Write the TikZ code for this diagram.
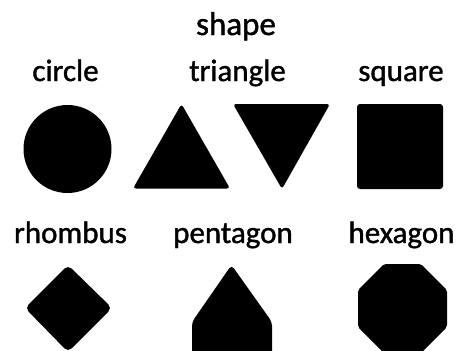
\documentclass[tikz,border=0pt]{standalone}
\usepackage{fontspec}
\setmainfont{Carlito}
\newfontfamily\lblfont{Carlito}[FakeBold=1.2]
\begin{document}
\begin{tikzpicture}[x=1pt,y=-1pt,
  lbl/.style={anchor=base,inner sep=0pt,font=\lblfont\fontsize{31}{34}\selectfont},
  shp/.style={fill=black,rounded corners=3pt}]
\useasboundingbox (0,0) rectangle (459,351);
\clip (0,0) rectangle (459,351);
\node[lbl,font=\lblfont\fontsize{33}{36}\selectfont] (title) at (236,35) {shape};
\node[lbl] (lcircle) at (65.5,81) {circle};
\node[lbl] (ltriangle) at (237.5,81) {triangle};
\node[lbl] (lsquare) at (401,81) {square};
\node[lbl] (lrhombus) at (70.5,243) {rhombus};
\node[lbl] (lpentagon) at (233,243) {pentagon};
\node[lbl] (lhexagon) at (401.5,243) {hexagon};
% circle
\fill (67.5,149) circle (44);
% up triangle
\fill[shp] (181.5,104) -- (230,188.5) -- (133,188.5) -- cycle;
% down triangle
\fill[shp] (233,104) -- (330,104) -- (282,189) -- cycle;
% square
\fill[shp] (357,104) rectangle (443,189);
% rhombus
\fill[shp,rounded corners=5pt] (68,265) -- (112,308) -- (68,352) -- (25,308) -- cycle;
% pentagon
\fill[shp,rounded corners=4pt] (231.5,265) -- (272,322) -- (272,365) -- (192,365) -- (192,322) -- cycle;
% octagon
\fill[shp,rounded corners=2pt] (447,290) -- (421,264) -- (384,264) -- (358,290) -- (358,327)
  -- (384,353) -- (421,353) -- (447,327) -- cycle;
\end{tikzpicture}
\end{document}
